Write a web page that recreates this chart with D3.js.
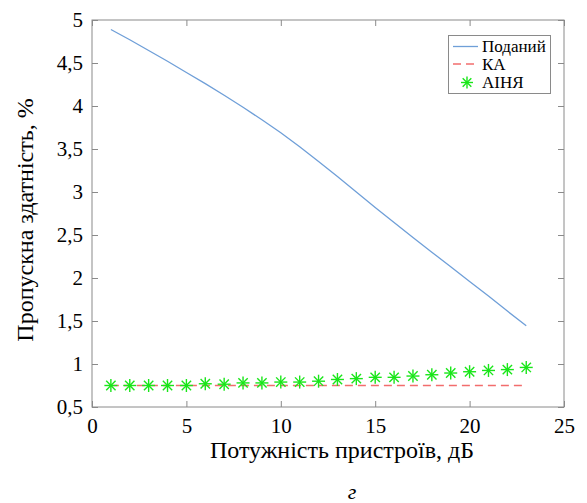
<!DOCTYPE html>
<html>
<head>
<meta charset="utf-8">
<script src="https://cdn.jsdelivr.net/npm/d3@7/dist/d3.min.js"></script>
<style>
  html, body { margin: 0; padding: 0; background: #fff; }
  svg { display: block; }
</style>
</head>
<body>
<svg id="chart" width="587" height="503"></svg>
<script>
// ---- data ----
const xValues = [1,2,3,4,5,6,7,8,9,10,11,12,13,14,15,16,17,18,19,20,21,22,23];
const podanyi = [4.89,4.77,4.645,4.52,4.39,4.26,4.125,3.985,3.84,3.69,3.525,3.355,3.18,3.00,2.82,2.645,2.47,2.30,2.13,1.96,1.79,1.615,1.445];
const ka = [0.75,0.75,0.75,0.75,0.75,0.75,0.75,0.75,0.75,0.75,0.75,0.75,0.75,0.75,0.75,0.75,0.75,0.75,0.75,0.75,0.75,0.75,0.75];
const ainya = [0.75,0.75,0.75,0.75,0.75,0.77,0.765,0.78,0.78,0.79,0.79,0.80,0.82,0.83,0.845,0.845,0.86,0.875,0.895,0.91,0.925,0.935,0.96];
const xTicks = [0,5,10,15,20,25];
const yTicks = [0.5,1,1.5,2,2.5,3,3.5,4,4.5,5];
const seriesNames = ["Поданий","КА","АІНЯ"];
const xLabel = "Потужність пристроїв, дБ";
const yLabel = "Пропускна здатність, %";
const caption = "г";

// ---- layout ----
const FONT = "'Liberation Serif'";
const svg = d3.select("#chart");
const L = 92, R = 564, T = 20, B = 407;
const x = d3.scaleLinear().domain([0,25]).range([L,R]);
const y = d3.scaleLinear().domain([0.5,5]).range([B,T]);
const axisColor = "#8a8a8a";
const fmt = v => String(v).replace(".", ",");

// box
svg.append("rect").attr("x",L).attr("y",T).attr("width",R-L).attr("height",B-T)
  .attr("fill","none").attr("stroke",axisColor).attr("stroke-width",1);

// axes (ticks inward)
const gx = svg.append("g").attr("transform",`translate(0,${B})`)
  .call(d3.axisBottom(x).tickValues(xTicks).tickSizeInner(-6).tickSizeOuter(0).tickFormat(fmt));
const gxt = svg.append("g").attr("transform",`translate(0,${T})`)
  .call(d3.axisTop(x).tickValues(xTicks).tickSizeInner(-6).tickSizeOuter(0).tickFormat(""));
const gy = svg.append("g").attr("transform",`translate(${L},0)`)
  .call(d3.axisLeft(y).tickValues(yTicks).tickSizeInner(-6).tickSizeOuter(0).tickFormat(fmt));
const gyr = svg.append("g").attr("transform",`translate(${R},0)`)
  .call(d3.axisRight(y).tickValues(yTicks).tickSizeInner(-6).tickSizeOuter(0).tickFormat(""));
[gx,gxt,gy,gyr].forEach(g => {
  g.attr("font-family",null).attr("font-size",null);
  g.select(".domain").remove();
  g.selectAll(".tick line").attr("stroke",axisColor);
  g.selectAll(".tick text").style("font-family",FONT).style("font-size","21px").attr("fill","#000");
});
gx.selectAll(".tick text").attr("dy",null).attr("y",26);
gy.selectAll(".tick text").attr("dy","0.33em").attr("x",-9);

// series
const pts = xValues.map((d,i)=>({x:d, p:podanyi[i], k:ka[i], a:ainya[i]}));
svg.append("path").datum(pts)
  .attr("fill","none").attr("stroke","#6f9fd8").attr("stroke-width",1.3)
  .attr("d", d3.line().x(d=>x(d.x)).y(d=>y(d.p)));
svg.append("path").datum(pts)
  .attr("fill","none").attr("stroke","#f26d6d").attr("stroke-width",1.3)
  .attr("stroke-dasharray","8,5")
  .attr("d", d3.line().x(d=>x(d.x)).y(d=>y(d.k)));

function star(g, cx, cy, r) {
  const s = g.append("g").attr("transform",`translate(${cx},${cy})`)
    .attr("stroke","#19e619").attr("stroke-width",1.4);
  s.append("line").attr("x1",-r).attr("x2",r).attr("y1",0).attr("y2",0);
  s.append("line").attr("x1",0).attr("x2",0).attr("y1",-r).attr("y2",r);
  const q = r*0.72;
  s.append("line").attr("x1",-q).attr("x2",q).attr("y1",-q).attr("y2",q);
  s.append("line").attr("x1",-q).attr("x2",q).attr("y1",q).attr("y2",-q);
}
const gs = svg.append("g");
pts.forEach(d => star(gs, x(d.x), y(d.a), 6.5));

// legend
const lg = svg.append("g");
lg.append("rect").attr("x",448.5).attr("y",35.5).attr("width",102).attr("height",58)
  .attr("fill","#fff").attr("stroke",axisColor).attr("stroke-width",1);
const rows = [46.5, 64, 82.5];
lg.append("line").attr("x1",453).attr("x2",478).attr("y1",rows[0]).attr("y2",rows[0])
  .attr("stroke","#6f9fd8").attr("stroke-width",1.3);
lg.append("line").attr("x1",453).attr("x2",479).attr("y1",rows[1]).attr("y2",rows[1])
  .attr("stroke","#f26d6d").attr("stroke-width",1.3).attr("stroke-dasharray","8,5");
star(lg, 467, rows[2], 6);
seriesNames.forEach((n,i) => {
  lg.append("text").attr("x",482).attr("y",rows[i]).attr("dy","0.35em")
    .style("font-family",FONT).style("font-size","17px").text(n);
});

// axis labels
svg.append("text").attr("x",342).attr("y",458).attr("text-anchor","middle")
  .style("font-family",FONT).style("font-size","24px").text(xLabel);
svg.append("text").attr("transform",`translate(33,220) rotate(-90)`).attr("text-anchor","middle")
  .style("font-family",FONT).style("font-size","24px").text(yLabel);
svg.append("text").attr("x",352).attr("y",499).attr("text-anchor","middle")
  .style("font-family",FONT).style("font-size","22px").style("font-style","italic").text(caption);
</script>
</body>
</html>
